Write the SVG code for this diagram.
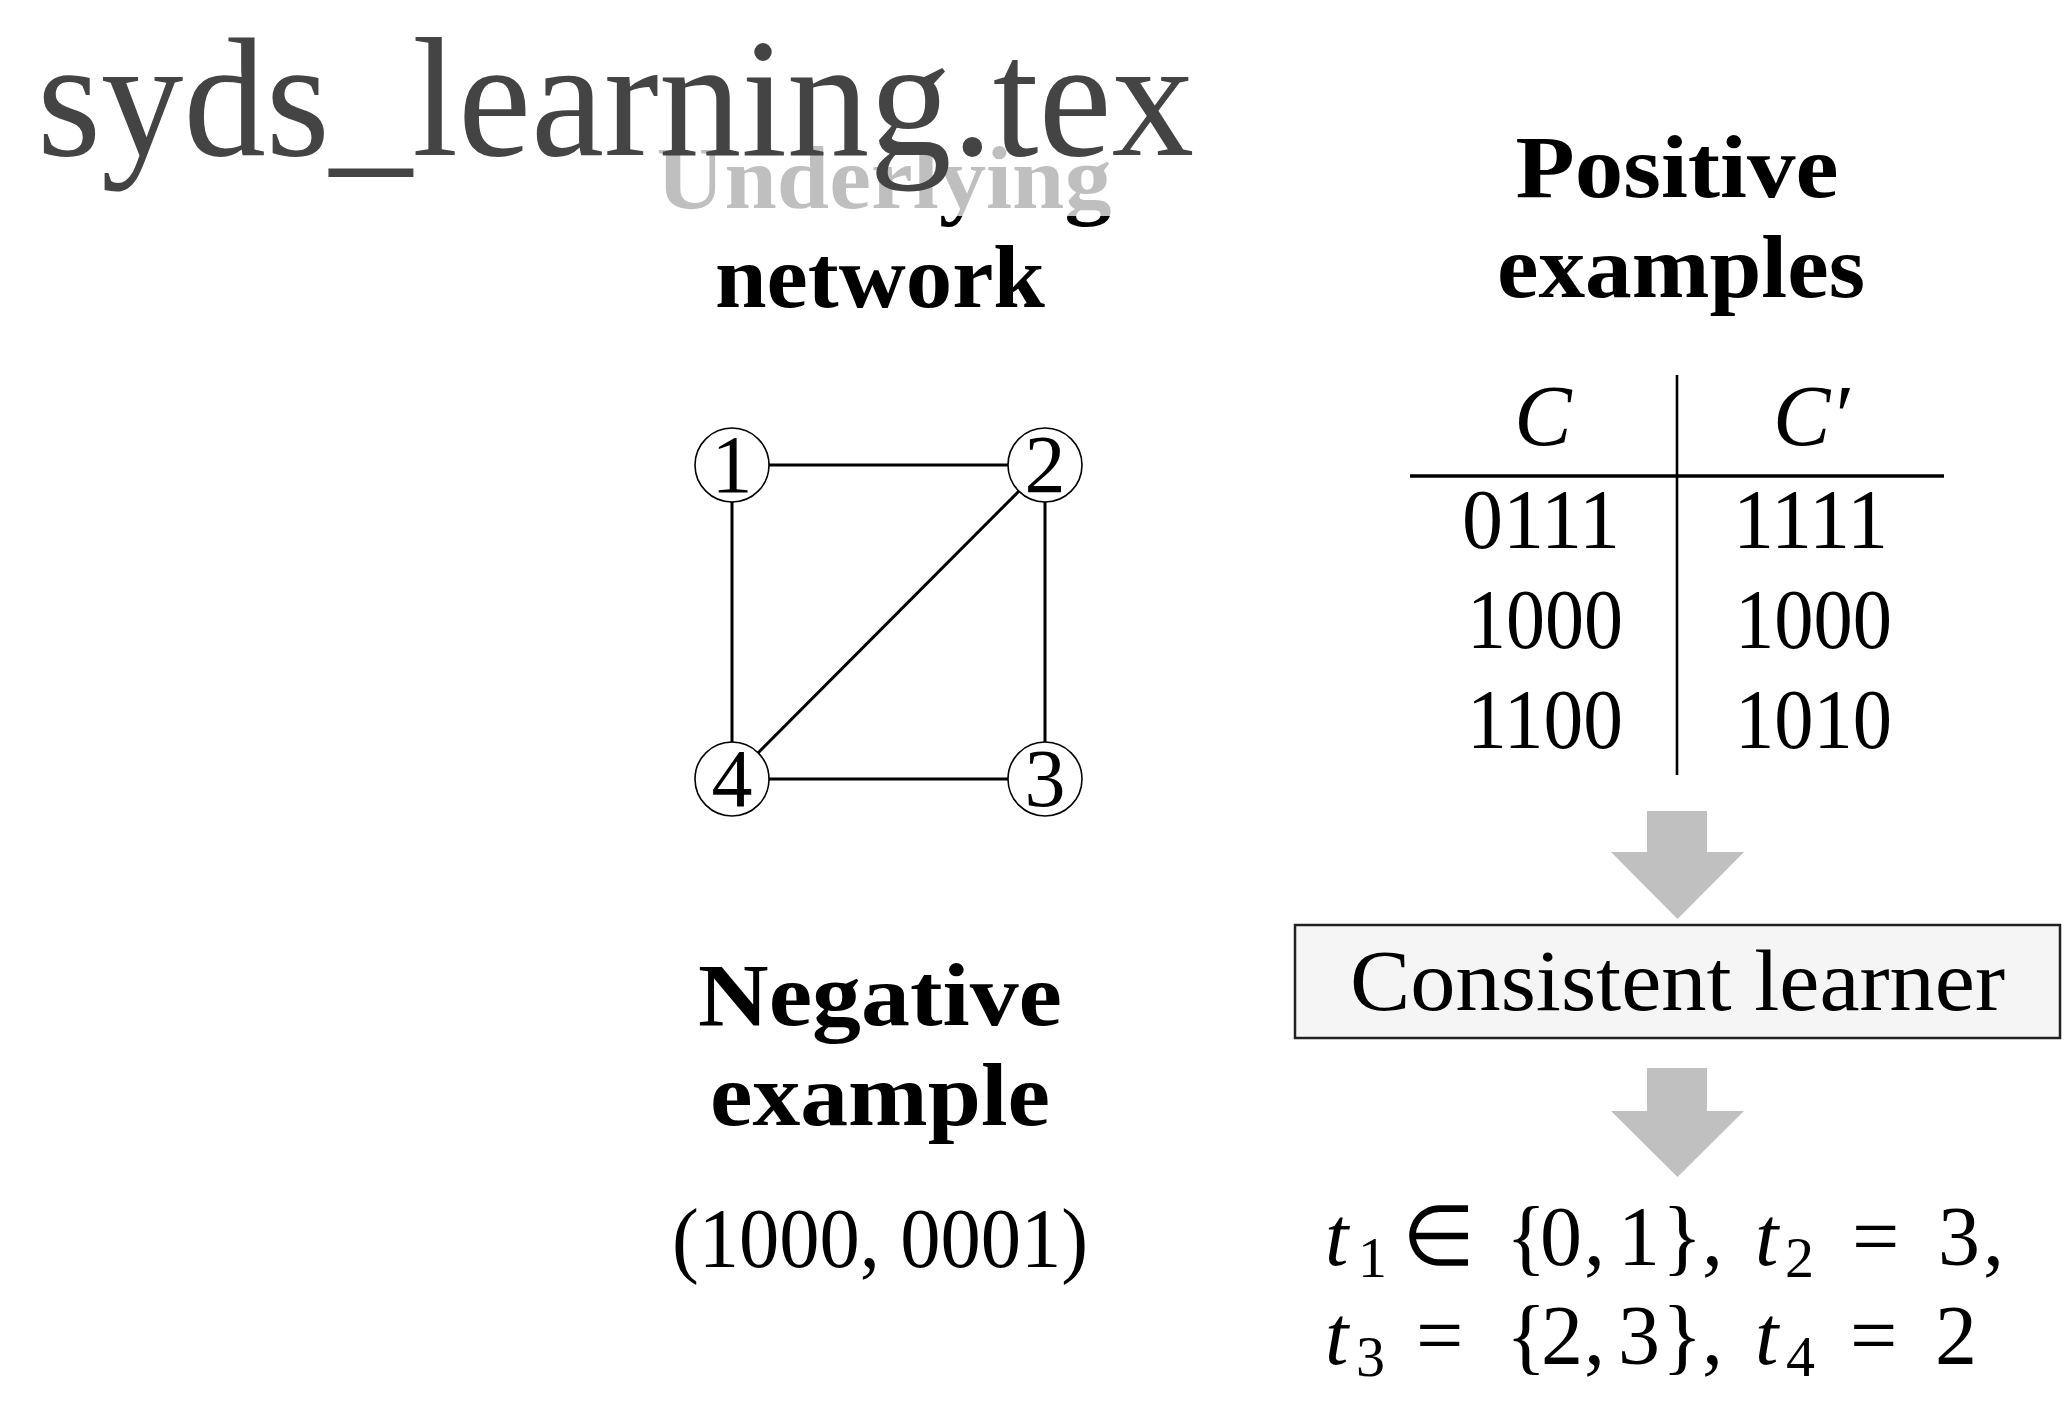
<svg xmlns="http://www.w3.org/2000/svg" width="2069" height="1419" viewBox="0 0 2069 1419">
<style>
.rm{font-family:"Liberation Serif","Times New Roman",serif;fill:#000}
.bf{font-family:"Liberation Serif","Times New Roman",serif;font-weight:bold;fill:#000;font-size:88px;text-anchor:middle}
.it{font-style:italic}
.edge{stroke:#000;stroke-width:3;fill:none}
.nd{fill:#fff;stroke:#000;stroke-width:1.6}
.arr{fill:#c0c0c0;stroke:none}
</style>
<rect width="2069" height="1419" fill="#fff"/>

<g id="label-underlying">
<text class="bf" x="884" y="208" textLength="455" lengthAdjust="spacingAndGlyphs">Underlying</text>
</g>
<g id="title">
<rect x="0" y="0" width="1220" height="216" fill="#fff" fill-opacity="0.75"/>
<text x="37" y="155" font-family="Liberation Serif, Times New Roman, serif" font-size="170" fill="#444" textLength="1157" lengthAdjust="spacingAndGlyphs">syds_learning.tex</text>
</g>
<g id="label-network">
<text class="bf" x="880" y="307" textLength="330" lengthAdjust="spacingAndGlyphs">network</text>
</g>

<g id="connectors">
<line class="edge" x1="769" y1="465" x2="1008" y2="465"/>
<line class="edge" x1="732" y1="502" x2="732" y2="742"/>
<line class="edge" x1="1045" y1="502" x2="1045" y2="742"/>
<line class="edge" x1="769" y1="779" x2="1008" y2="779"/>
<line class="edge" x1="1019" y1="491" x2="758" y2="753"/>
</g>

<g id="node-1"><circle class="nd" cx="732" cy="465" r="37"/><text class="rm" x="732" y="492" font-size="82" text-anchor="middle">1</text></g>
<g id="node-2"><circle class="nd" cx="1045" cy="465" r="37"/><text class="rm" x="1045" y="492" font-size="82" text-anchor="middle">2</text></g>
<g id="node-3"><circle class="nd" cx="1045" cy="779" r="37"/><text class="rm" x="1045" y="806" font-size="82" text-anchor="middle">3</text></g>
<g id="node-4"><circle class="nd" cx="732" cy="779" r="37"/><text class="rm" x="732" y="806" font-size="82" text-anchor="middle">4</text></g>

<g id="label-positive">
<text class="bf" x="1677" y="197" textLength="323" lengthAdjust="spacingAndGlyphs">Positive</text>
<text class="bf" x="1681" y="297" textLength="368" lengthAdjust="spacingAndGlyphs">examples</text>
</g>

<g id="table">
<line x1="1677" y1="375" x2="1677" y2="775" stroke="#000" stroke-width="2.6"/>
<line x1="1410" y1="476" x2="1944" y2="476" stroke="#000" stroke-width="3.4"/>
<text class="rm it" x="1543" y="445" font-size="86" text-anchor="middle">C</text>
<text class="rm it" x="1811" y="445" font-size="86" text-anchor="middle">C′</text>
<g font-size="84" class="rm">
<text class="rm" x="1462" y="548" font-size="84" textLength="158" lengthAdjust="spacingAndGlyphs">0111</text>
<text class="rm" x="1733" y="548" font-size="84" textLength="155" lengthAdjust="spacingAndGlyphs">1111</text>
<text class="rm" x="1467" y="648" font-size="84" textLength="156" lengthAdjust="spacingAndGlyphs">1000</text>
<text class="rm" x="1735" y="648" font-size="84" textLength="157" lengthAdjust="spacingAndGlyphs">1000</text>
<text class="rm" x="1467" y="748" font-size="84" textLength="156" lengthAdjust="spacingAndGlyphs">1100</text>
<text class="rm" x="1735" y="748" font-size="84" textLength="157" lengthAdjust="spacingAndGlyphs">1010</text>
</g>
</g>

<g id="arrow-1"><polygon class="arr" points="1647,811 1707,811 1707,852 1744,852 1677.5,919 1611,852 1647,852"/></g>

<g id="learner">
<rect x="1295" y="925" width="765" height="113" fill="#f5f5f5" stroke="#222" stroke-width="2.5"/>
<text class="rm" x="1350" y="1010" font-size="86" textLength="655" lengthAdjust="spacingAndGlyphs">Consistent learner</text>
</g>

<g id="arrow-2"><polygon class="arr" points="1647,1068 1707,1068 1707,1111 1744,1111 1677.5,1177 1611,1111 1647,1111"/></g>

<g id="label-negative">
<text class="bf" x="880" y="1025" textLength="364" lengthAdjust="spacingAndGlyphs">Negative</text>
<text class="bf" x="880" y="1125" textLength="340" lengthAdjust="spacingAndGlyphs">example</text>
<text class="rm" x="672" y="1267" font-size="84" textLength="416" lengthAdjust="spacingAndGlyphs">(1000, 0001)</text>
</g>

<g id="result" class="rm" font-size="84">
<text class="rm" font-size="84" y="1265"><tspan class="it" x="1325">t</tspan><tspan x="1358" y="1277" font-size="58">1</tspan><tspan x="1402" y="1265">∈</tspan><tspan x="1506">{</tspan><tspan x="1540">0</tspan><tspan x="1584">,</tspan><tspan x="1618">1</tspan><tspan x="1662">}</tspan><tspan x="1702">,</tspan><tspan class="it" x="1755">t</tspan><tspan x="1785" y="1277" font-size="58">2</tspan><tspan x="1852" y="1265">=</tspan><tspan x="1938">3</tspan><tspan x="1983">,</tspan></text>
<text class="rm" font-size="84" y="1364"><tspan class="it" x="1325">t</tspan><tspan x="1356" y="1376" font-size="58">3</tspan><tspan x="1416" y="1364">=</tspan><tspan x="1506">{</tspan><tspan x="1541">2</tspan><tspan x="1584">,</tspan><tspan x="1618">3</tspan><tspan x="1662">}</tspan><tspan x="1702">,</tspan><tspan class="it" x="1755">t</tspan><tspan x="1786" y="1376" font-size="58">4</tspan><tspan x="1850" y="1364">=</tspan><tspan x="1935">2</tspan></text>
</g>
</svg>
